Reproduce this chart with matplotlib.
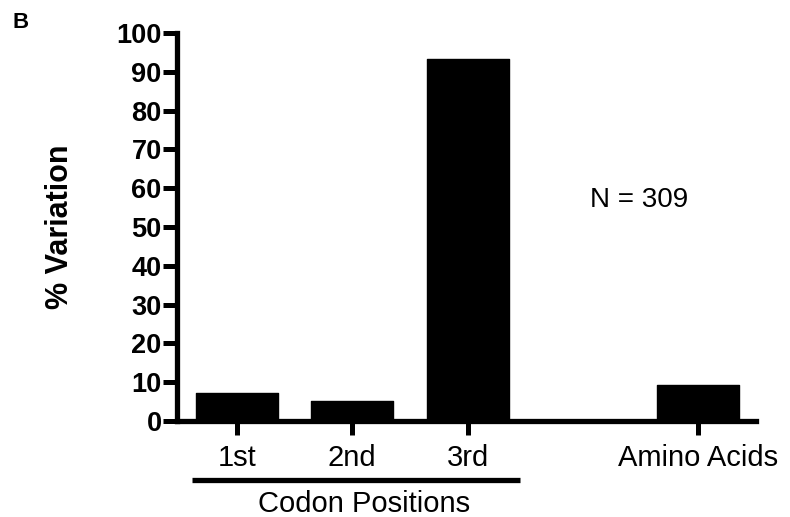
import matplotlib.pyplot as plt
import matplotlib.transforms as mtransforms

categories = ['1st', '2nd', '3rd', 'Amino Acids']
positions = [0, 1, 2, 4]
variation = [7.2, 5.2, 93.3, 9.2]
y_ticks = list(range(0, 101, 10))

plt.rcParams['font.family'] = ['Liberation Sans', 'DejaVu Sans']

fig = plt.figure(figsize=(7.9, 5.17), dpi=100)
ax = fig.add_axes([0.224, 0.186, 0.733, 0.750])

ax.bar(positions, variation, width=0.71, color='black', edgecolor='black',
       linewidth=1, joinstyle='round')

ax.set_xlim(-0.52, 4.5)
ax.set_ylim(0, 100)
ax.set_yticks(y_ticks)
ax.set_yticklabels([str(t) for t in y_ticks], fontsize=19.5, fontweight='bold')
ax.set_xticks(positions)
ax.set_xticklabels(categories, fontsize=21)

ax.spines['top'].set_visible(False)
ax.spines['right'].set_visible(False)
ax.spines['left'].set_linewidth(3.8)
ax.spines['bottom'].set_linewidth(3.8)
ax.tick_params(axis='both', width=3.6, length=10, color='black')
ax.tick_params(axis='y', pad=1)
ax.tick_params(axis='x', pad=7)

ax.set_ylabel('% Variation', fontsize=22, fontweight='bold', labelpad=30)

# Codon positions bracket line under the first three labels
trans = mtransforms.blended_transform_factory(ax.transData, ax.transAxes)
ax.plot([-0.39, 2.45], [-0.152, -0.152], color='black', lw=3.8,
        transform=trans, clip_on=False, solid_capstyle='butt')
ax.text(1.1, -0.214, 'Codon Positions', transform=trans, ha='center',
        va='center', fontsize=21)

ax.text(3.49, 57, 'N = 309', ha='center', va='center', fontsize=20)

fig.text(0.016, 0.957, 'B', fontsize=16, fontweight='bold', ha='left', va='center')

fig.savefig('out.png', dpi=100)
